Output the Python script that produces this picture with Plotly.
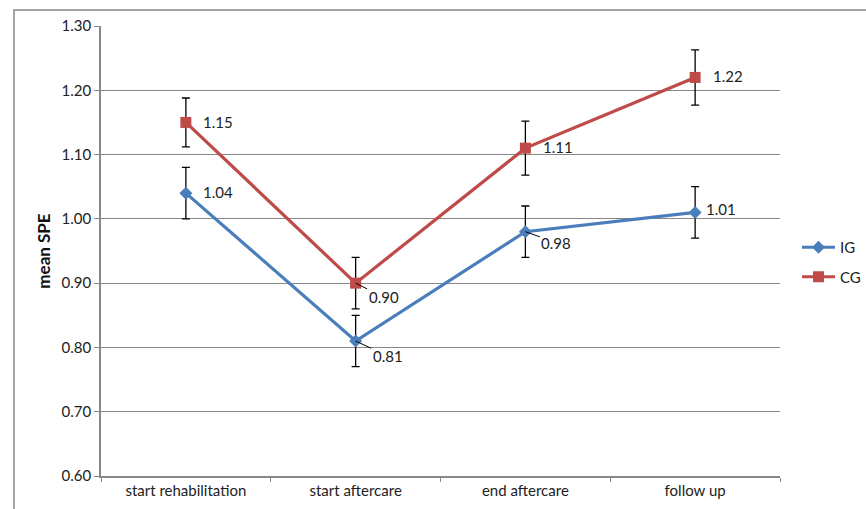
import plotly.graph_objects as go

categories = ["start rehabilitation", "start aftercare", "end aftercare", "follow up"]
ig_values = [1.04, 0.81, 0.98, 1.01]
ig_errors = [0.04, 0.04, 0.04, 0.04]
cg_values = [1.15, 0.90, 1.11, 1.22]
cg_errors = [0.038, 0.04, 0.042, 0.043]
y_ticks = [0.60, 0.70, 0.80, 0.90, 1.00, 1.10, 1.20, 1.30]

IG_COLOR = "#4A7EBB"
CG_COLOR = "#BE4B48"
FONT = "Lato, 'Open Sans', sans-serif"

W, H = 866, 509
L, R, T, B = 101, 780, 26, 476
PW, PH = R - L, B - T

fig = go.Figure()
fig.add_trace(go.Scatter(
    x=categories, y=ig_values, name="IG", mode="lines+markers",
    line=dict(color=IG_COLOR, width=3.2),
    marker=dict(symbol="diamond", size=10, color=IG_COLOR),
    error_y=dict(type="data", array=ig_errors, color="black", thickness=1.3, width=4),
    legendgroup="a",
))
fig.add_trace(go.Scatter(
    x=categories, y=cg_values, name="CG", mode="lines+markers",
    line=dict(color=CG_COLOR, width=3.2),
    marker=dict(symbol="square", size=11, color=CG_COLOR),
    error_y=dict(type="data", array=cg_errors, color="black", thickness=1.3, width=4),
    legendgroup="b",
))

# data labels: (series values, index, dx, dy, leader)
label_specs = [
    (ig_values, 0, 15, -1, False),
    (ig_values, 1, 17, 15, True),
    (ig_values, 2, 16, 11, True),
    (ig_values, 3, 9, -3, False),
    (cg_values, 0, 15, 0, False),
    (cg_values, 1, 13, 14, True),
    (cg_values, 2, 16, -1, False),
    (cg_values, 3, 16, -1, False),
]
for vals, i, dx, dy, leader in label_specs:
    txt = f"{vals[i]:.2f}"
    if leader:
        fig.add_annotation(x=categories[i], y=vals[i], text=txt, showarrow=True,
                           arrowhead=0, arrowwidth=1, arrowcolor="black",
                           ax=dx + 15, ay=dy, xanchor="center", yanchor="middle",
                           standoff=0, font=dict(family=FONT, size=15, color="#222"))
    else:
        fig.add_annotation(x=categories[i], y=vals[i], text=txt, showarrow=False,
                           xanchor="left", yanchor="middle", xshift=dx, yshift=-dy,
                           font=dict(family=FONT, size=15, color="#222"))

# outer chart border (left and top edges visible, others beyond the page)
fig.add_shape(type="rect", xref="paper", yref="paper",
              x0=(14 - L) / PW, y0=(B - 10) / PH, x1=(W + 10 - L) / PW, y1=(B - (H + 10)) / PH,
              line=dict(color="#888", width=1.5), fillcolor="rgba(0,0,0,0)", layer="above")

fig.update_layout(
    width=W, height=H,
    margin=dict(l=L, r=W - R, t=T, b=H - B, autoexpand=False),
    paper_bgcolor="white", plot_bgcolor="white",
    font=dict(family=FONT, size=15, color="#222"),
    showlegend=True,
    legend=dict(x=(866 - L) / PW, y=(B - 231) / PH, xanchor="right", yanchor="top",
                font=dict(family=FONT, size=15, color="#222"),
                tracegroupgap=7, itemwidth=33, bgcolor="rgba(0,0,0,0)"),
    xaxis=dict(
        type="category", range=[-0.5, 3.5], showgrid=False, automargin=False,
        showline=True, linecolor="#888", linewidth=1.5,
        ticks="outside", ticklen=4, tickcolor="#888", tickson="boundaries",
        tickfont=dict(family=FONT, size=15, color="#222"),
    ),
    yaxis=dict(
        range=[0.60, 1.30], tickvals=y_ticks, ticktext=[f"{v:.2f}" for v in y_ticks],
        showgrid=True, gridcolor="#888", gridwidth=1.2, automargin=False,
        showline=True, linecolor="#888", linewidth=1.5,
        ticks="outside", ticklen=5, tickcolor="#888", zeroline=False,
        tickfont=dict(family=FONT, size=15, color="#222"),
        title=dict(text="<b>mean SPE</b>", font=dict(family=FONT, size=17, color="#111"), standoff=7),
    ),
)

fig.write_html("out.html", config={"displayModeBar": False},
               post_script="document.body.style.margin='0';")
